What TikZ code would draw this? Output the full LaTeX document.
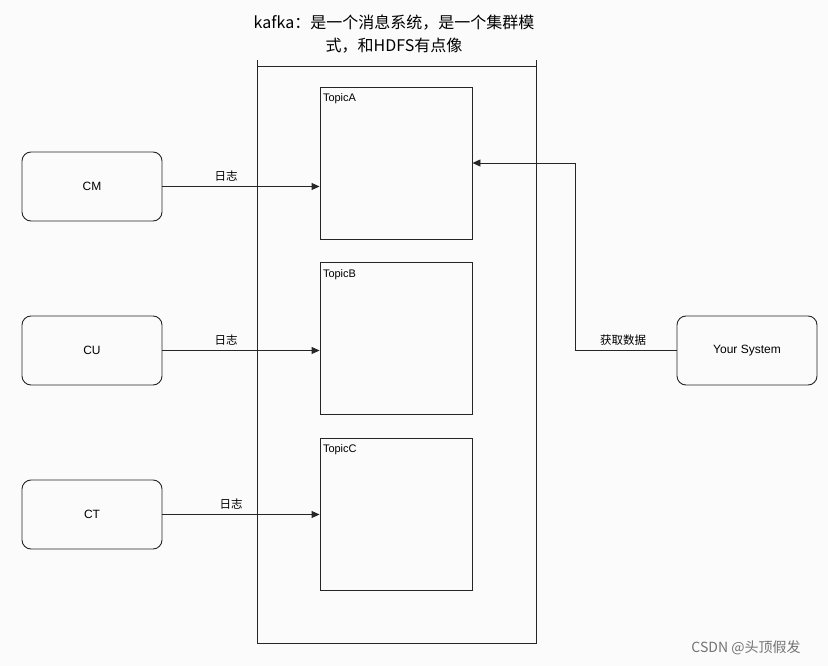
\documentclass[tikz,border=0pt]{standalone}
\usepackage{fontspec}
\setmainfont{Liberation Sans}
\newfontfamily\cjk{Noto Sans CJK SC}
\usetikzlibrary{arrows.meta}
\begin{document}
\begin{tikzpicture}[x=1pt,y=-1pt,
  line width=0.9pt,
  client/.style={draw=black!85, rounded corners=9pt, minimum width=140pt, minimum height=69pt, font=\fontsize{12}{14}\selectfont, inner sep=0pt},
  topic/.style={draw=black!85, minimum width=152pt, minimum height=152pt, inner sep=0pt},
  lbl/.style={font=\cjk\fontsize{11.5}{13}\selectfont, inner sep=1pt},
  tlbl/.style={font=\fontsize{11}{13}\selectfont, anchor=north west, inner sep=0pt},
  arr/.style={draw=black!85, -{Triangle[length=8pt,width=7pt]}}
]
\useasboundingbox (0,0) rectangle (828,666);
\fill[white!97!gray] (0,0) rectangle (828,666);
% container
\coordinate (k1) at (257,60);
\coordinate (k2) at (257,643);
\coordinate (k3) at (536,643);
\coordinate (k4) at (536,60);
\draw[black!85] (k1) -- (k2) -- (k3) -- (k4);
\coordinate (kl) at (257,66.5);
\coordinate (kr) at (536,66.5);
\draw[black!85] (kl) -- (kr);
\node[font=\cjk\fontsize{16}{23}\selectfont, align=center] (title) at (394,34) {kafka：是一个消息系统，是一个集群模\\式，和HDFS有点像};
% topics
\node[topic] (ta) at (396,163) {};
\node[topic] (tb) at (396,338.5) {};
\node[topic] (tc) at (396,514) {};
\node[tlbl] (tal) at ([shift={(3pt,-7pt)}]ta.north west) {TopicA};
\node[tlbl] (tbl) at ([shift={(3pt,-7pt)}]tb.north west) {TopicB};
\node[tlbl] (tcl) at ([shift={(3pt,-7pt)}]tc.north west) {TopicC};
% clients
\node[client] (cm) at (92,186.5) {CM};
\node[client] (cu) at (92,350.5) {CU};
\node[client] (ct) at (92,514.5) {CT};
\node[client] (ys) at (747,350.5) {Your System};
% arrows
\coordinate (pa) at (ta.west |- cm.east);
\coordinate (pb) at (tb.west |- cu.east);
\coordinate (pc) at (tc.west |- ct.east);
\draw[arr] (cm.east) -- (pa);
\draw[arr] (cu.east) -- (pb);
\draw[arr] (ct.east) -- (pc);
\node[lbl] (l1) at (226,176) {日志};
\node[lbl] (l2) at (226,340) {日志};
\node[lbl] (l3) at (231,504) {日志};
\coordinate (c1) at (575,350.5);
\coordinate (c2) at (575,163);
\draw[arr] (ys.west) -- (c1) -- (c2) -- (ta.east);
\node[lbl] (l4) at (623,340) {获取数据};
% watermark
\node[font=\cjk\fontsize{14}{16}\selectfont, text=black!55] (wm) at (746,648) {CSDN @头顶假发};
\end{tikzpicture}
\end{document}
